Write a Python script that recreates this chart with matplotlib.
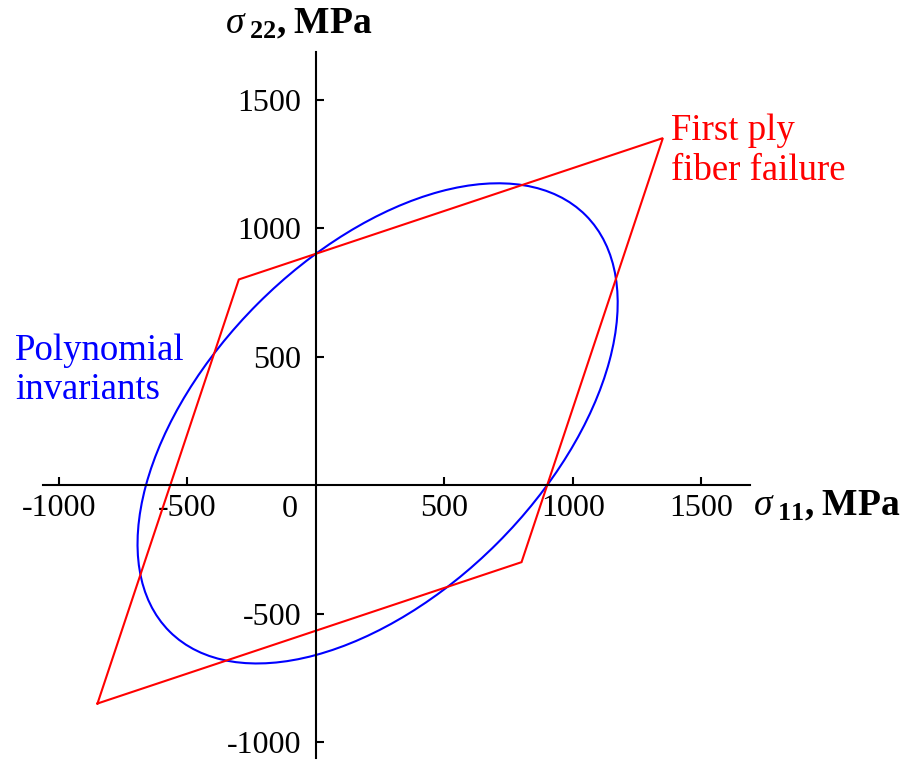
import matplotlib
matplotlib.use("Agg")
import matplotlib.pyplot as plt
from matplotlib.patches import Ellipse

# first ply fiber failure envelope (closed polygon), MPa
fiber_s11 = [-850, -300, 1350, 800, -850]
fiber_s22 = [-850, 800, 1350, -300, -850]

# polynomial invariants envelope: ellipse on the s11 = s22 diagonal
poly_center = (240, 240)
poly_major = 2290
poly_minor = 1318
poly_angle = 45

xticks = [-1000, -500, 500, 1000, 1500]
yticks = [-1000, -500, 500, 1000, 1500]

plt.rcParams['font.family'] = ['Liberation Serif', 'DejaVu Serif']
plt.rcParams['mathtext.fontset'] = 'custom'
plt.rcParams['mathtext.rm'] = 'Liberation Serif'
plt.rcParams['mathtext.it'] = 'Liberation Serif:italic'
plt.rcParams['mathtext.bf'] = 'Liberation Serif:bold'

fig = plt.figure(figsize=(9.03, 7.61), dpi=100)
ax = fig.add_axes([43 / 903, 1 - 758 / 761, 707 / 903, 706 / 761])
ax.set_xlim(-1062, 1689)
ax.set_ylim(-1062, 1685)

ax.spines['left'].set_position(('data', 0))
ax.spines['bottom'].set_position(('data', 0))
ax.spines['right'].set_color('none')
ax.spines['top'].set_color('none')
for s in ('left', 'bottom'):
    ax.spines[s].set_linewidth(1.5)

ax.plot(fiber_s11, fiber_s22, color='#ff0000', lw=1.5, solid_joinstyle='miter')
ax.add_patch(Ellipse(poly_center, poly_major, poly_minor, angle=poly_angle,
                     fill=False, edgecolor='#0000ff', lw=1.5))

ax.set_xticks(xticks)
ax.set_yticks(yticks)
ax.set_xticklabels([str(v) for v in xticks])
ax.set_yticklabels([str(v) for v in yticks])
ax.tick_params(axis='x', direction='in', length=6, width=1.5, pad=6.5, labelsize=23)
ax.tick_params(axis='y', direction='in', length=6, width=1.5, pad=10.5, labelsize=23)
ax.text(-70, -40, '0', ha='right', va='top', fontsize=23)

fig.text(753 / 903, 1 - 515 / 761, r'$\sigma_{\ \mathbf{11}}\mathbf{,}\;\mathbf{MPa}$',
         fontsize=27, ha='left', va='baseline')
fig.text(225 / 903, 1 - 33 / 761, r'$\sigma_{\ \mathbf{22}}\mathbf{,}\;\mathbf{MPa}$',
         fontsize=27, ha='left', va='baseline')

fig.text(15 / 903, 1 - 333 / 761, 'Polynomial\ninvariants', color='#0000ff',
         fontsize=26.5, ha='left', va='top', linespacing=1.2)
fig.text(671 / 903, 1 - 114 / 761, 'First ply\nfiber failure', color='#ff0000',
         fontsize=26.5, ha='left', va='top', linespacing=1.2)

fig.savefig('out.png', dpi=100)
